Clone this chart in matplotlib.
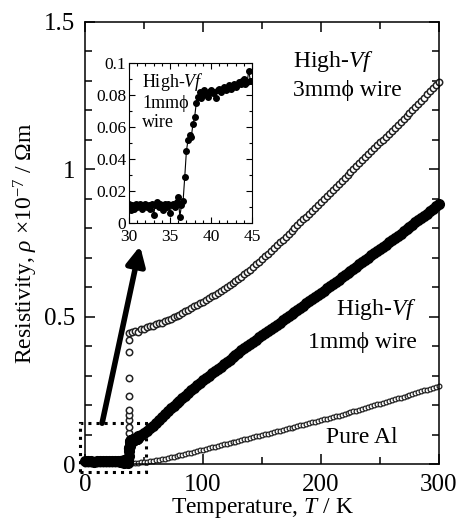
import numpy as np
import matplotlib
matplotlib.use('Agg')
import matplotlib.pyplot as plt
from matplotlib.patches import Rectangle
from matplotlib.ticker import MultipleLocator, FuncFormatter

plt.rcParams['font.family'] = ['Liberation Serif', 'DejaVu Serif']
plt.rcParams['mathtext.fontset'] = 'custom'
plt.rcParams['mathtext.rm'] = 'Liberation Serif'
plt.rcParams['mathtext.it'] = 'Liberation Serif:italic'

# ---- data (rho in 1e-7 Ohm m, T in K) ----
# low temperature plateau, sampled every 2.5 K from 0 to 35 K
t_low = np.arange(0, 36, 2.5)
rho_3mm_low = [0.008, 0.009, 0.007, 0.008, 0.009, 0.008, 0.007, 0.008,
               0.009, 0.008, 0.007, 0.008, 0.009, 0.008, 0.009]
rho_1mm_low = [0.011, 0.010, 0.012, 0.009, 0.011, 0.010, 0.012, 0.011,
               0.010, 0.011, 0.012, 0.010, 0.011, 0.012, 0.011]
rho_al_low = [0.001, 0.001, 0.001, 0.001, 0.001, 0.001, 0.001, 0.001,
              0.001, 0.001, 0.001, 0.001, 0.001, 0.001, 0.001]

# 3mm wire: points of the jump near 37 K
t_3mm_jump = [36.6, 36.7, 36.8, 36.8, 36.9, 36.9, 37.0, 37.0, 37.1, 37.1, 37.2, 37.3, 37.4]
rho_3mm_jump = [0.02, 0.04, 0.058, 0.081, 0.105, 0.126, 0.149, 0.166, 0.183,
                0.231, 0.292, 0.38, 0.42]

# normal state, sampled every 2.5 K from 37.5 to 300 K
t_high = np.arange(37.5, 300.1, 2.5)
rho_3mm_high = [
    0.445, 0.447, 0.452, 0.450, 0.457, 0.459, 0.465, 0.467, 0.469, 0.476,
    0.478, 0.480, 0.486, 0.490, 0.493, 0.499, 0.503, 0.507, 0.514, 0.518,
    0.522, 0.529, 0.535, 0.539, 0.546, 0.551, 0.556, 0.564, 0.569, 0.574,
    0.582, 0.589, 0.593, 0.600, 0.608, 0.613, 0.621, 0.629, 0.635, 0.645,
    0.651, 0.660, 0.669, 0.678, 0.687, 0.696, 0.705, 0.714, 0.724, 0.733,
    0.743, 0.752, 0.762, 0.771, 0.781, 0.790, 0.800, 0.810, 0.820, 0.830,
    0.840, 0.850, 0.860, 0.870, 0.880, 0.890, 0.900, 0.910, 0.920, 0.930,
    0.940, 0.951, 0.961, 0.971, 0.981, 0.991, 1.001, 1.011, 1.021, 1.031,
    1.041, 1.051, 1.061, 1.071, 1.081, 1.091, 1.101, 1.111, 1.121, 1.131,
    1.141, 1.151, 1.161, 1.171, 1.181, 1.191, 1.202, 1.212, 1.223, 1.233,
    1.243, 1.254, 1.264, 1.275, 1.285, 1.296]

# 1mm wire above the inset range, every 2.5 K from 47.5 to 300 K
t_1mm_high = np.arange(47.5, 300.1, 2.5)
rho_1mm_high = [
    0.098, 0.105, 0.114, 0.122, 0.131, 0.140, 0.150, 0.160, 0.170, 0.180,
    0.189, 0.198, 0.207, 0.215, 0.224, 0.233, 0.241, 0.250, 0.259, 0.268,
    0.277, 0.285, 0.293, 0.300, 0.308, 0.315, 0.323, 0.331, 0.340, 0.348,
    0.355, 0.363, 0.370, 0.378, 0.386, 0.393, 0.400, 0.408, 0.415, 0.422,
    0.430, 0.437, 0.444, 0.451, 0.459, 0.466, 0.473, 0.480, 0.488, 0.495,
    0.502, 0.509, 0.517, 0.524, 0.531, 0.538, 0.546, 0.553, 0.560, 0.567,
    0.575, 0.582, 0.589, 0.596, 0.604, 0.611, 0.618, 0.626, 0.634, 0.641,
    0.648, 0.656, 0.663, 0.670, 0.678, 0.685, 0.693, 0.700, 0.708, 0.715,
    0.722, 0.730, 0.738, 0.745, 0.752, 0.760, 0.768, 0.775, 0.782, 0.790,
    0.798, 0.805, 0.812, 0.820, 0.828, 0.835, 0.842, 0.850, 0.858, 0.866,
    0.874, 0.882]

rho_al_high = [
    0.002, 0.003, 0.004, 0.005, 0.006, 0.007, 0.008, 0.010, 0.011, 0.013,
    0.015, 0.017, 0.019, 0.021, 0.023, 0.025, 0.027, 0.030, 0.032, 0.034,
    0.037, 0.039, 0.042, 0.044, 0.047, 0.049, 0.052, 0.054, 0.057, 0.060,
    0.062, 0.065, 0.068, 0.070, 0.073, 0.074, 0.077, 0.079, 0.082, 0.084,
    0.087, 0.089, 0.092, 0.094, 0.097, 0.099, 0.102, 0.104, 0.107, 0.109,
    0.112, 0.114, 0.117, 0.119, 0.122, 0.124, 0.127, 0.129, 0.132, 0.134,
    0.137, 0.139, 0.142, 0.144, 0.147, 0.149, 0.152, 0.154, 0.157, 0.159,
    0.162, 0.165, 0.168, 0.171, 0.174, 0.177, 0.180, 0.182, 0.185, 0.188,
    0.191, 0.194, 0.197, 0.200, 0.203, 0.205, 0.208, 0.211, 0.214, 0.217,
    0.220, 0.223, 0.226, 0.229, 0.232, 0.235, 0.238, 0.241, 0.244, 0.247,
    0.250, 0.253, 0.256, 0.259, 0.262, 0.265]

# inset: 1mm wire, 30 - 45 K every 0.2 K
t_inset = np.arange(30, 45.01, 0.2)
rho_inset = [
    0.012, 0.008, 0.011, 0.009, 0.012, 0.010, 0.011, 0.012, 0.009, 0.011,
    0.012, 0.010, 0.011, 0.009, 0.012, 0.005, 0.011, 0.013, 0.010, 0.012,
    0.011, 0.008, 0.012, 0.010, 0.012, 0.006, 0.011, 0.012, 0.010, 0.013,
    0.016, 0.004, 0.011, 0.014, 0.029, 0.045, 0.052, 0.055, 0.054, 0.062,
    0.066, 0.075, 0.079, 0.082, 0.078, 0.080, 0.083, 0.081, 0.079, 0.082,
    0.083, 0.081, 0.082, 0.078, 0.083, 0.084, 0.082, 0.084, 0.085, 0.083,
    0.084, 0.086, 0.084, 0.085, 0.087, 0.085, 0.086, 0.088, 0.087, 0.089,
    0.090, 0.087, 0.088, 0.095, 0.089, 0.089]

t_3mm = np.concatenate([t_low, t_3mm_jump, t_high])
rho_3mm = np.concatenate([rho_3mm_low, rho_3mm_jump, rho_3mm_high])
t_1mm = np.concatenate([t_low, t_inset, t_1mm_high])
rho_1mm = np.concatenate([rho_1mm_low, rho_inset, rho_1mm_high])
t_al = np.concatenate([t_low, t_high])
rho_al = np.concatenate([rho_al_low, rho_al_high])

fig = plt.figure(figsize=(4.65, 5.21), dpi=100)
ax = fig.add_axes([0.183, 0.109, 0.761, 0.849])

ax.plot(t_al, rho_al, 'o', ms=3.4, mfc='white', mec='#222222', mew=0.9, clip_on=False)
ax.plot(t_3mm, rho_3mm, 'o', ms=4.6, mfc='white', mec='#222222', mew=1.1, clip_on=False)
ax.plot(t_1mm, rho_1mm, 'o', ms=7, color='black', clip_on=False)

ax.set_xlim(0, 300)
ax.set_ylim(0, 1.5)
ax.xaxis.set_major_locator(MultipleLocator(100))
ax.xaxis.set_minor_locator(MultipleLocator(50))
ax.yaxis.set_major_locator(MultipleLocator(0.5))
ax.yaxis.set_minor_locator(MultipleLocator(0.1))
ax.yaxis.set_major_formatter(FuncFormatter(lambda v, p: '%g' % v))
ax.tick_params(which='both', direction='in', top=True, right=True, width=1.1)
ax.tick_params(which='major', length=7, labelsize=18, pad=7)
ax.tick_params(which='minor', length=5)
for s in ax.spines.values():
    s.set_linewidth(1.1)

ax.set_xlabel('Temperature, $\\it{T}$ / K', fontsize=17, labelpad=0)
ax.set_ylabel('Resistivity, $\\it{\u03c1}$ \u00d710$^{-7}$ / \u03a9m', fontsize=17, labelpad=3)

ax.text(176, 1.364, 'High-$\\it{Vf}$', fontsize=17, va='center', ha='left')
ax.text(176, 1.266, '3mm\u03d5 wire', fontsize=17, va='center', ha='left')
ax.text(281, 0.526, 'High-$\\it{Vf}$', fontsize=17, va='center', ha='right')
ax.text(281, 0.414, '1mm\u03d5 wire', fontsize=17, va='center', ha='right')
ax.text(265, 0.092, 'Pure Al', fontsize=17, va='center', ha='right')

# dotted box and arrow pointing to the inset
ax.add_patch(Rectangle((-4, -0.027), 56, 0.167, fill=False, ls=':', lw=2.2,
                       ec='black', clip_on=False))
ax.annotate('', xy=(46.6, 0.74), xytext=(14.4, 0.139),
            arrowprops=dict(arrowstyle='-|>', lw=4, color='black',
                            mutation_scale=28, shrinkA=0, shrinkB=0))

# inset
ins = fig.add_axes([0.2774, 0.572, 0.2646, 0.307])
ins.plot(t_inset, rho_inset, '-o', color='black', ms=4, lw=0.8)
ins.set_xlim(30, 45)
ins.set_ylim(0, 0.1)
ins.xaxis.set_major_locator(MultipleLocator(5))
ins.xaxis.set_minor_locator(MultipleLocator(1))
ins.yaxis.set_major_locator(MultipleLocator(0.02))
ins.yaxis.set_minor_locator(MultipleLocator(0.01))
ins.yaxis.set_major_formatter(FuncFormatter(lambda v, p: '%g' % v))
ins.tick_params(which='both', direction='in', top=True, right=True, width=0.8)
ins.tick_params(which='major', length=4, labelsize=12.5, pad=2)
ins.tick_params(axis='x', which='major', pad=4)
ins.tick_params(which='minor', length=2.5)
for s in ins.spines.values():
    s.set_linewidth(0.8)
ins.text(31.6, 0.088, 'High-$\\it{Vf}$', fontsize=13, va='center')
ins.text(31.6, 0.075, '1mm\u03d5', fontsize=13, va='center')
ins.text(31.6, 0.063, 'wire', fontsize=13, va='center')

fig.savefig('out.png', dpi=100)
